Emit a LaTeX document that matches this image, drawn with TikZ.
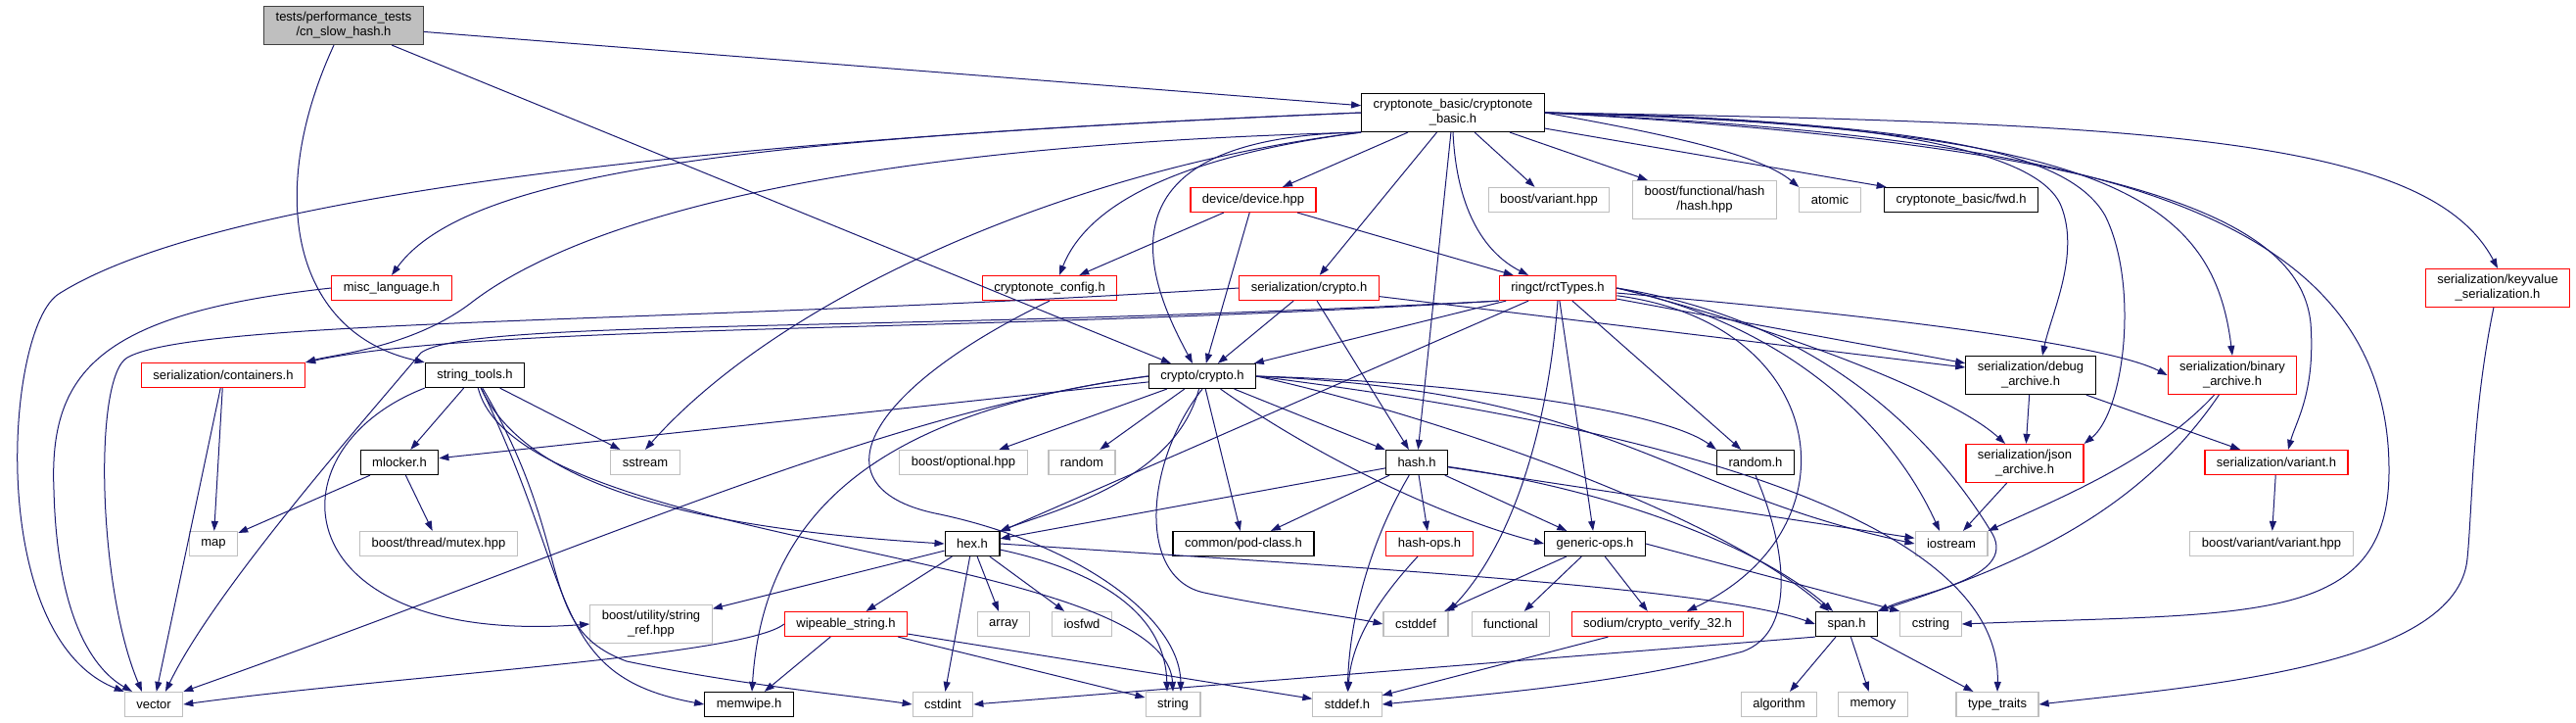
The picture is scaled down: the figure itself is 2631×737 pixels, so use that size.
\documentclass[tikz,border=0pt]{standalone}
\usepackage{fontspec}
\setmainfont{Liberation Sans}
\usetikzlibrary{arrows.meta}

\definecolor{linkblue}{HTML}{191970}
\definecolor{sysgray}{HTML}{BFBFBF}
\definecolor{truncred}{HTML}{FF0000}
\definecolor{edgegray}{HTML}{404040}

\begin{document}
\begin{tikzpicture}[
  x=1pt, y=-1pt,
  font=\fontsize{13}{15}\selectfont,
  localfile/.style={rectangle, draw=black, fill=white, line width=1.2pt, align=center, inner xsep=12pt, inner ysep=6pt, minimum height=25pt},
  truncfile/.style={localfile, draw=truncred},
  sysfile/.style={localfile, draw=sysgray},
  mainfile/.style={localfile, draw=edgegray, fill=sysgray},
  incl/.style={-{Triangle[length=10pt, width=7pt]}, draw=linkblue, line width=1pt}
]
\path[use as bounding box, fill=white] (0,0) rectangle (2631,737);

\node (root)       [mainfile]  at (351,26)   {tests/performance\_tests\\/cn\_slow\_hash.h};
\node (cbasic)     [localfile] at (1484,115) {cryptonote\_basic/cryptonote\\\_basic.h};
\node (device)     [truncfile] at (1280,204) {device/device.hpp};
\node (bvariant)   [sysfile]   at (1582,204) {boost/variant.hpp};
\node (bfhash)     [sysfile]   at (1741,204) {boost/functional/hash\\/hash.hpp};
\node (atomic)     [sysfile]   at (1869,204) {atomic};
\node (fwd)        [localfile] at (2003,204) {cryptonote\_basic/fwd.h};
\node (misclang)   [truncfile] at (400,294)  {misc\_language.h};
\node (config)     [truncfile] at (1072,294) {cryptonote\_config.h};
\node (sercrypto)  [truncfile] at (1337,294) {serialization/crypto.h};
\node (rcttypes)   [truncfile] at (1591,294) {ringct/rctTypes.h};
\node (keyvalue)   [truncfile] at (2551,294) {serialization/keyvalue\\\_serialization.h};
\node (containers) [truncfile] at (228,383)  {serialization/containers.h};
\node (strtools)   [localfile] at (485,383)  {string\_tools.h};
\node (crypto)     [localfile] at (1228,384) {crypto/crypto.h};
\node (debugar)    [localfile] at (2074,383) {serialization/debug\\\_archive.h};
\node (binaryar)   [truncfile] at (2280,383) {serialization/binary\\\_archive.h};
\node (mlocker)    [localfile] at (408,472)  {mlocker.h};
\node (sstream)    [sysfile]   at (659,472)  {sstream};
\node (boptional)  [sysfile]   at (984,472)  {boost/optional.hpp};
\node (random)     [sysfile]   at (1105,472) {random};
\node (hash)       [localfile] at (1447,472) {hash.h};
\node (randomh)    [localfile] at (1793,472) {random.h};
\node (jsonar)     [truncfile] at (2068,473) {serialization/json\\\_archive.h};
\node (servariant) [truncfile] at (2325,472) {serialization/variant.h};
\node (map)        [sysfile]   at (218,555)  {map};
\node (mutex)      [sysfile]   at (448,555)  {boost/thread/mutex.hpp};
\node (hex)        [localfile] at (993,555)  {hex.h};
\node (podclass)   [localfile] at (1270,555) {common/pod-class.h};
\node (hashops)    [truncfile] at (1460,555) {hash-ops.h};
\node (genericops) [localfile] at (1629,555) {generic-ops.h};
\node (iostream)   [sysfile]   at (1993,555) {iostream};
\node (bvvariant)  [sysfile]   at (2320,555) {boost/variant/variant.hpp};
\node (stringref)  [sysfile]   at (665,637)  {boost/utility/string\\\_ref.hpp};
\node (wipeable)   [truncfile] at (864,637)  {wipeable\_string.h};
\node (array)      [sysfile]   at (1025,637) {array};
\node (iosfwd)     [sysfile]   at (1105,637) {iosfwd};
\node (cstddef)    [sysfile]   at (1446,637) {cstddef};
\node (functional) [sysfile]   at (1543,637) {functional};
\node (sodium)     [truncfile] at (1693,637) {sodium/crypto\_verify\_32.h};
\node (span)       [localfile] at (1886,637) {span.h};
\node (cstring)    [sysfile]   at (1972,637) {cstring};
\node (vector)     [sysfile]   at (157,719)  {vector};
\node (memwipe)    [localfile] at (765,719)  {memwipe.h};
\node (cstdint)    [sysfile]   at (963,719)  {cstdint};
\node (string)     [sysfile]   at (1198,719) {string};
\node (stddefh)    [sysfile]   at (1376,719) {stddef.h};
\node (algorithm)  [sysfile]   at (1817,719) {algorithm};
\node (memory)     [sysfile]   at (1913,719) {memory};
\node (typetraits) [sysfile]   at (2040,719) {type\_traits};

\draw [incl] (root) -- (cbasic);
\draw [incl] (root) -- (crypto);
\draw [incl] ([xshift=-10pt]root.south) .. controls (270,200) and (300,340) .. (strtools.north west);

\draw [incl] (cbasic.west) .. controls (900,135) and (250,180) .. (60,300) .. controls (5,335) and (-15,650) .. (vector.north west);
\draw [incl] (cbasic.west) .. controls (800,140) and (480,170) .. (misclang.north);
\draw [incl] (cbasic.south west) .. controls (800,150) and (570,240) .. (480,310) .. controls (420,355) and (340,362) .. (containers.north east);
\draw [incl] (cbasic.south west) .. controls (1100,170) and (800,300) .. (sstream.north);
\draw [incl] (cbasic.south west) .. controls (1200,160) and (1110,210) .. ([xshift=10pt]config.north);
\draw [incl] (cbasic.south west) .. controls (1100,140) and (1180,300) .. ([xshift=-10pt]crypto.north);
\draw [incl] (cbasic) -- (device);
\draw [incl] (cbasic) -- (sercrypto);
\draw [incl] (cbasic) -- (hash);
\draw [incl] (cbasic.south) .. controls (1488,220) and (1520,260) .. ([xshift=-30pt]rcttypes.north);
\draw [incl] (cbasic) -- (bvariant);
\draw [incl] (cbasic) -- (bfhash);
\draw [incl] (cbasic.east) .. controls (1720,140) and (1800,160) .. (atomic.north west);
\draw [incl] (cbasic) -- (fwd);
\draw [incl] (cbasic.east) .. controls (1900,120) and (2080,150) .. (2105,210) .. controls (2125,260) and (2095,320) .. ([xshift=12pt]debugar.north);
\draw [incl] (cbasic.east) .. controls (1950,125) and (2110,150) .. (2150,220) .. controls (2185,290) and (2170,420) .. (jsonar.north east);
\draw [incl] (cbasic.east) .. controls (2150,130) and (2260,200) .. (binaryar.north);
\draw [incl] (cbasic.east) .. controls (2200,150) and (2350,230) .. (2360,330) .. controls (2365,400) and (2345,430) .. ([xshift=12pt]servariant.north);
\draw [incl] (cbasic.east) .. controls (2200,125) and (2480,140) .. (keyvalue.north);
\draw [incl] (cbasic.east) .. controls (2100,140) and (2440,200) .. (2440,480) .. controls (2440,640) and (2300,625) .. (cstring.east);

\draw [incl] (misclang.west) .. controls (100,320) and (50,380) .. (55,500) .. controls (58,620) and (90,680) .. ([xshift=-22pt]vector.north);

\draw [incl] (containers) -- (map);
\draw [incl] (containers) -- (vector);

\draw [incl] (strtools) -- (mlocker);
\draw [incl] (strtools) -- (sstream);
\draw [incl] (strtools.south west) .. controls (270,460) and (290,660) .. (stringref.west);
\draw [incl] (strtools) .. controls (540,500) and (720,540) .. (hex.west);
\draw [incl] (strtools) .. controls (530,560) and (1190,560) .. (string.north);
\draw [incl] (strtools) .. controls (590,560) and (545,640) .. (640,675) .. controls (760,700) and (870,710) .. (cstdint.west);
\draw [incl] (strtools) .. controls (590,600) and (560,690) .. (memwipe.west);

\draw [incl] (mlocker) -- (map);
\draw [incl] (mlocker) -- (mutex);

\draw [incl] (device) -- (config);
\draw [incl] (device) -- (crypto);
\draw [incl] (device) -- (rcttypes);

\draw [incl] (config.south) .. controls (880,400) and (830,500) .. (960,525) .. controls (1100,555) and (1205,630) .. ([xshift=8pt]string.north);

\draw [incl] (sercrypto.west) .. controls (700,330) and (200,325) .. (130,365) .. controls (95,385) and (100,600) .. ([xshift=-12pt]vector.north);
\draw [incl] (sercrypto) -- (crypto);
\draw [incl] (sercrypto) -- (hash);
\draw [incl] (sercrypto) -- (debugar);

\draw [incl] (rcttypes.south west) .. controls (1000,340) and (500,330) .. (containers.north east);
\draw [incl] (rcttypes.south west) .. controls (900,340) and (480,325) .. (430,360) .. controls (380,420) and (220,600) .. ([xshift=12pt]vector.north);
\draw [incl] (rcttypes) -- (crypto);
\draw [incl] (rcttypes) -- (hex);
\draw [incl] (rcttypes.south) .. controls (1580,450) and (1540,560) .. (cstddef.north east);
\draw [incl] (rcttypes) -- (genericops);
\draw [incl] (rcttypes) -- (randomh);
\draw [incl] (rcttypes) .. controls (1870,330) and (1900,540) .. ([xshift=30pt]sodium.north);
\draw [incl] (rcttypes.east) .. controls (1820,330) and (1930,430) .. ([xshift=-12pt]iostream.north);
\draw [incl] (rcttypes.east) .. controls (1880,330) and (1990,470) .. (2035,545) .. controls (2060,590) and (1960,605) .. (span.north east);
\draw [incl] (rcttypes) -- (debugar);
\draw [incl] (rcttypes.east) .. controls (1800,330) and (1990,400) .. ([xshift=-20pt]jsonar.north);
\draw [incl] (rcttypes) .. controls (1900,320) and (2150,350) .. (binaryar.west);

\draw [incl] (crypto) -- (mlocker);
\draw [incl] (crypto.west) .. controls (900,420) and (780,520) .. ([xshift=3pt]memwipe.north);
\draw [incl] (crypto.west) .. controls (900,420) and (600,560) .. (vector.north east);
\draw [incl] (crypto) -- (boptional);
\draw [incl] (crypto) -- (random);
\draw [incl] (crypto) .. controls (1200,490) and (1080,520) .. (hex.north east);
\draw [incl] (crypto) -- (podclass);
\draw [incl] (crypto) -- (hash);
\draw [incl] (crypto) .. controls (1350,470) and (1480,530) .. (genericops.west);
\draw [incl] (crypto.east) .. controls (1450,420) and (1750,520) .. ([xshift=-18pt]span.north);
\draw [incl] (crypto.east) .. controls (1500,390) and (1700,420) .. (randomh.north west);
\draw [incl] (crypto.east) .. controls (1650,400) and (1700,500) .. (iostream.west);
\draw [incl] (crypto.east) .. controls (1650,430) and (2045,520) .. (typetraits.north);
\draw [incl] (crypto.south) .. controls (1170,470) and (1160,590) .. (1230,605) .. controls (1300,620) and (1380,630) .. (cstddef.west);

\draw [incl] (hex) -- (stringref);
\draw [incl] (hex) -- (wipeable);
\draw [incl] (hex) -- (cstdint);
\draw [incl] (hex) -- (array);
\draw [incl] (hex) -- (iosfwd);
\draw [incl] (hex) .. controls (1110,580) and (1190,620) .. ([xshift=-6pt]string.north);
\draw [incl] (hex.east) .. controls (1400,580) and (1750,600) .. (span.west);

\draw [incl] (wipeable.west) .. controls (760,670) and (400,690) .. (vector.east);
\draw [incl] (wipeable) -- (memwipe);
\draw [incl] (wipeable) -- (string);
\draw [incl] (wipeable) -- (stddefh);

\draw [incl] (hash) -- (hex);
\draw [incl] (hash) -- (podclass);
\draw [incl] (hash) -- (hashops);
\draw [incl] (hash) -- (genericops);
\draw [incl] (hash) .. controls (1395,560) and (1378,640) .. (stddefh);
\draw [incl] (hash) .. controls (1650,500) and (1800,560) .. ([xshift=-14pt]span.north);
\draw [incl] (hash) -- (iostream);

\draw [incl] (randomh.south) .. controls (1825,560) and (1835,645) .. (1780,665) .. controls (1650,700) and (1500,710) .. (stddefh.east);
\draw [incl] (hashops) .. controls (1400,620) and (1380,660) .. (stddefh);

\draw [incl] (genericops) -- (cstddef);
\draw [incl] (genericops) -- (functional);
\draw [incl] (genericops) -- (sodium);
\draw [incl] (genericops.east) -- (cstring.north west);

\draw [incl] (sodium) -- (stddefh);

\draw [incl] (span.south west) -- (cstdint.east);
\draw [incl] (span) -- (algorithm);
\draw [incl] (span) -- (memory);
\draw [incl] (span) -- (typetraits);

\draw [incl] (debugar) -- (jsonar);
\draw [incl] (debugar) -- (servariant);
\draw [incl] (jsonar) -- (iostream);
\draw [incl] (binaryar) .. controls (2200,470) and (2100,510) .. (iostream.north east);
\draw [incl] (binaryar) .. controls (2180,530) and (2050,580) .. (span.north east);
\draw [incl] (servariant) -- (bvvariant);
\draw [incl] (keyvalue) .. controls (2525,420) and (2525,520) .. (2520,570) .. controls (2510,680) and (2250,700) .. (typetraits.east);
\end{tikzpicture}
\end{document}
